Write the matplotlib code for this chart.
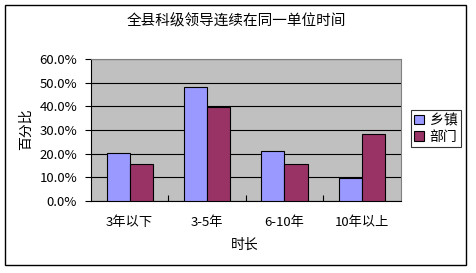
import numpy as np
import matplotlib.pyplot as plt
from matplotlib.patches import Patch, Rectangle
from matplotlib.ticker import FuncFormatter

plt.rcParams['font.family'] = ['Noto Sans CJK SC', 'DejaVu Sans']

categories = ["3年以下", "3-5年", "6-10年", "10年以上"]
township = [20.2, 48.0, 21.1, 9.6]
department = [15.5, 39.8, 15.5, 28.2]
series_names = ["乡镇", "部门"]

W, H = 476, 273
fig = plt.figure(figsize=(W / 100, H / 100), dpi=100)

# outer chart border
fig.patches.append(Rectangle((5 / W, (H - 265) / H), 461 / W, 260 / H,
                             transform=fig.transFigure, fill=False,
                             edgecolor="black", linewidth=1))

ax = fig.add_axes([91 / W, (H - 201) / H, 309.5 / W, 142 / H])
ax.set_facecolor("#C0C0C0")

x = np.arange(len(categories))
bw = 23 / 77
ax.bar(x - bw / 2, township, bw, color="#9999FF", edgecolor="black", linewidth=0.8, zorder=3)
ax.bar(x + bw / 2, department, bw, color="#993366", edgecolor="black", linewidth=0.8, zorder=3)

ax.set_xlim(-0.5, len(categories) - 0.5)
ax.set_ylim(0, 60)
ax.set_yticks(np.arange(0, 61, 10))
ax.yaxis.set_major_formatter(FuncFormatter(lambda v, p: f"{v:.1f}%"))
ax.grid(axis="y", color="black", linewidth=0.8, zorder=1)

ax.set_xticks(x)
ax.set_xticklabels(categories)
ax.set_xticks(np.arange(0.5, len(categories) - 0.5, 1), minor=True)
ax.tick_params(axis="x", which="major", length=0, pad=11, labelsize=9.5)
ax.tick_params(axis="x", which="minor", length=4, direction="in", width=0.8)
ax.tick_params(axis="y", length=4, width=0.8, labelsize=9.5, pad=6)

for side in ["top", "right"]:
    ax.spines[side].set_color("#808080")
    ax.spines[side].set_linewidth(0.8)
for side in ["left", "bottom"]:
    ax.spines[side].set_linewidth(0.8)

fig.text(245 / W, (H - 245) / H, "时长", fontsize=10, ha="center", va="center")
fig.text(26 / W, (H - 129) / H, "百分比", rotation=90, fontsize=10,
         ha="center", va="center")
fig.text(236 / W, (H - 21) / H, "全县科级领导连续在同一单位时间", fontsize=10.5,
         ha="center", va="center")

handles = [Patch(facecolor="#9999FF", edgecolor="black", linewidth=0.8),
           Patch(facecolor="#993366", edgecolor="black", linewidth=0.8)]
leg = fig.legend(handles, series_names, loc="upper left",
                 bbox_to_anchor=(411 / W, (H - 110) / H), fontsize=10,
                 frameon=True, fancybox=False, edgecolor="black",
                 handlelength=0.7, handleheight=0.7, handletextpad=0.4,
                 borderpad=0.25, labelspacing=0.15, borderaxespad=0)
leg.get_frame().set_linewidth(0.8)

fig.savefig("out.png", dpi=100)
